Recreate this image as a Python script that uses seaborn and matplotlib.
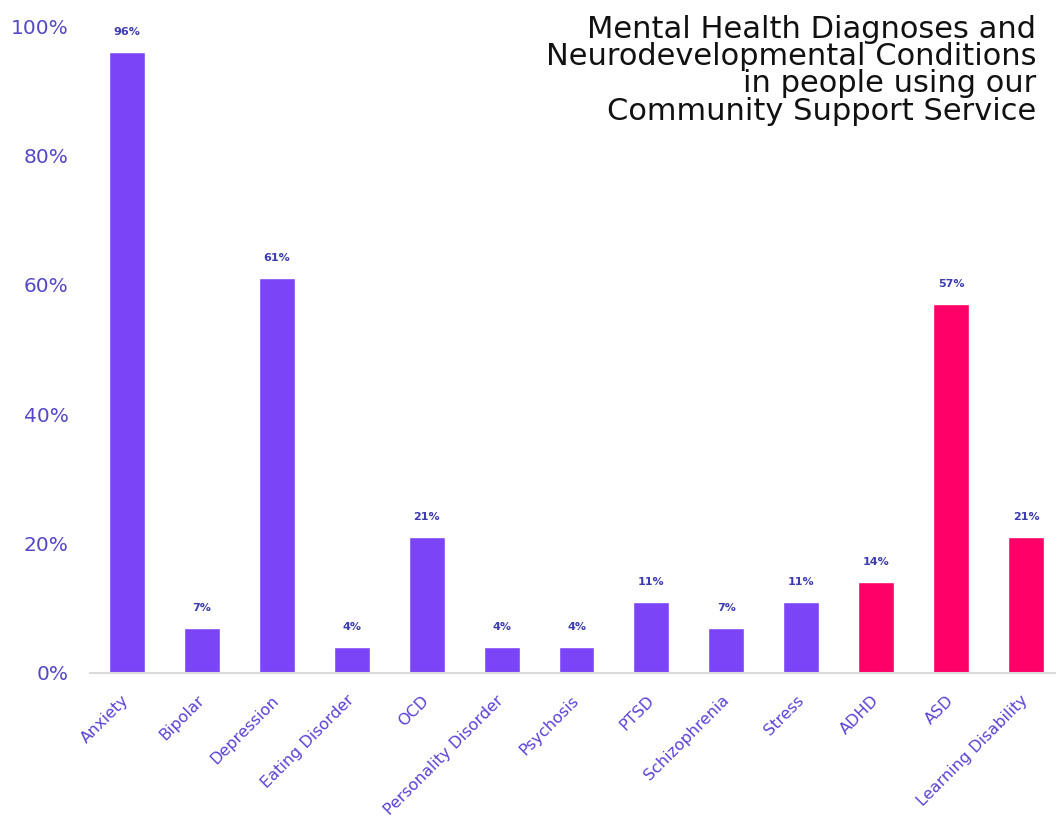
import matplotlib
matplotlib.use("Agg")
import matplotlib.pyplot as plt
import seaborn as sns
import pandas as pd

categories = ["Anxiety", "Bipolar", "Depression", "Eating Disorder", "OCD",
              "Personality Disorder", "Psychosis", "PTSD", "Schizophrenia",
              "Stress", "ADHD", "ASD", "Learning Disability"]
values = [96, 7, 61, 4, 21, 4, 4, 11, 7, 11, 14, 57, 21]
groups = ["Mental Health"] * 10 + ["Neurodevelopmental"] * 3
yticks = [0, 20, 40, 60, 80, 100]
title_lines = ["Mental Health Diagnoses and", "Neurodevelopmental Conditions",
               "in people using our", "Community Support Service"]

purple = "#7B45F7"
pink = "#FF0068"
label_color = "#5A42D6"

sns.set_theme(style="white")
plt.rcParams['font.family'] = ['DejaVu Sans']

df = pd.DataFrame({"category": categories, "value": values, "group": groups})

W, H = 1056, 827
fig = plt.figure(figsize=(W / 100, H / 100), dpi=100)
ax = fig.add_axes([89.5 / W, 154 / H, 974 / W, 647 / H])

sns.barplot(data=df, x="category", y="value", hue="group",
            palette={"Mental Health": purple, "Neurodevelopmental": pink},
            dodge=False, width=0.48, legend=False, ax=ax, saturation=1)

ax.set_xlim(-0.5, len(categories) - 0.5)
ax.set_ylim(0, 100)
ax.set_yticks(yticks)
ax.set_yticklabels([f"{t}%" for t in yticks], fontsize=14.5, color="#5448C8")
ax.tick_params(axis="y", length=0, pad=15)
ax.tick_params(axis="x", length=0, pad=18)
ax.set_xticks(range(len(categories)))
ax.set_xticklabels(categories, rotation=45, ha="right", va="center",
                   rotation_mode="anchor", fontsize=11.5, color=label_color)
ax.set_xlabel("")
ax.set_ylabel("")
for s in ["top", "right", "left"]:
    ax.spines[s].set_visible(False)
ax.spines["bottom"].set_color("#DADADA")
ax.spines["bottom"].set_linewidth(1.5)

for i, v in enumerate(values):
    ax.text(i, v + 3.1, f"{v}%", ha="center", va="center", fontsize=8,
            fontweight="bold", color="#3C3CB0")

baselines = [38, 65, 92, 120]
for line, b in zip(title_lines, baselines):
    fig.text(1036 / W, 1 - b / H, line, ha="right", va="baseline",
             fontsize=22, color="#111111")

fig.savefig("out.png", dpi=100, facecolor="white")
